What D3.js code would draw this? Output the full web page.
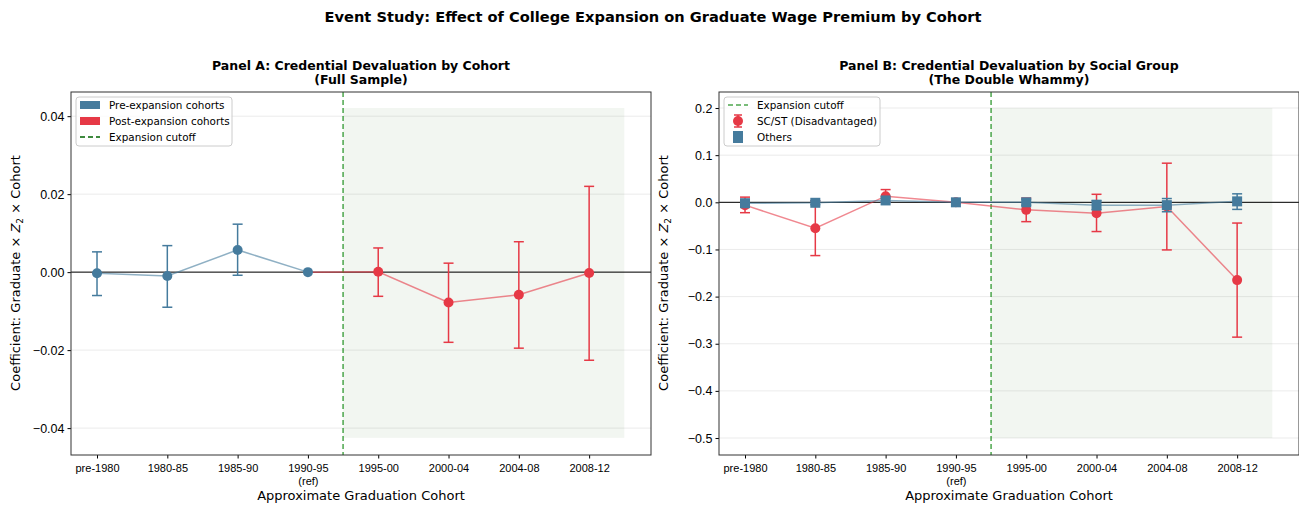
<!DOCTYPE html>
<html>
<head>
<meta charset="utf-8">
<script src="https://cdn.jsdelivr.net/npm/d3@7"></script>
<style>
body{margin:0;background:#fff;}
svg{font-family:"DejaVu Sans",sans-serif;}
.grid line{stroke:#e6e6e6;stroke-width:0.8;}
</style>
</head>
<body>
<div id="chart"></div>
<script>
var W=1299, H=506;

// cohorts on the x axis
var cohorts=["pre-1980","1980-85","1985-90","1990-95","1995-00","2000-04","2004-08","2008-12"];
var refIndex=3;
var cutoff=3.5;
var shadeX=[3.5,7.5];

// panel A: full sample
var coefA=[-0.0003,-0.0010,0.0057,0,0.0001,-0.0078,-0.0058,-0.0002];
var loA  =[-0.0060,-0.0090,-0.0008,0,-0.0062,-0.0180,-0.0195,-0.0226];
var hiA  =[0.0052,0.0068,0.0123,0,0.0062,0.0023,0.0078,0.0220];
var ticksA=[-0.04,-0.02,0.00,0.02,0.04];
var shadeYA=[-0.0425,0.0421];

// panel B: by social group
var coefSC=[-0.006,-0.055,0.013,0,-0.016,-0.023,-0.009,-0.165];
var loSC  =[-0.022,-0.113,0.000,0,-0.041,-0.062,-0.101,-0.286];
var hiSC  =[0.011,0.003,0.027,0,0.009,0.017,0.083,-0.044];
var coefOth=[-0.002,-0.001,0.004,0,0.000,-0.006,-0.006,0.002];
var loOth  =[-0.010,-0.005,0.000,0,-0.006,-0.016,-0.020,-0.015];
var hiOth  =[0.006,0.003,0.008,0,0.006,0.004,0.008,0.018];
var ticksB=[-0.5,-0.4,-0.3,-0.2,-0.1,0.0,0.1,0.2];
var shadeYB=[-0.5,0.2];

var blue="#457b9d", red="#e63946";

var svg=d3.select("#chart").append("svg").attr("width",W).attr("height",H);

svg.append("text").attr("x",653).attr("y",22).attr("text-anchor","middle")
  .style("font-size","14.6px").style("font-weight","bold")
  .text("Event Study: Effect of College Expansion on Graduate Wage Premium by Cohort");

function minus(s){return s.replace("-","\u2212");}

function makePanel(o){
  var g=svg.append("g");
  var x=d3.scaleLinear().domain([-0.37,7.88]).range([o.left,o.left+580]);
  var y=d3.scaleLinear().domain(o.ydom).range([455,92]);

  // grid
  g.append("g").attr("class","grid").selectAll("line").data(o.ticks).join("line")
    .attr("x1",x.range()[0]).attr("x2",x.range()[1])
    .attr("y1",d=>y(d)).attr("y2",d=>y(d));

  // shaded post period
  g.append("rect").attr("x",x(shadeX[0])).attr("width",x(shadeX[1])-x(shadeX[0]))
    .attr("y",y(o.shade[1])).attr("height",y(o.shade[0])-y(o.shade[1]))
    .attr("fill","#4a7a3a").attr("opacity",0.07);

  // zero line
  g.append("line").attr("x1",x.range()[0]).attr("x2",x.range()[1])
    .attr("y1",y(0)).attr("y2",y(0)).attr("stroke","#000").attr("stroke-width",1);

  // cutoff
  g.append("line").attr("x1",x(cutoff)).attr("x2",x(cutoff)).attr("y1",92).attr("y2",455)
    .attr("stroke","green").attr("stroke-opacity",0.7).attr("stroke-width",1.5)
    .attr("stroke-dasharray","5,3");

  // axes
  var xa=g.append("g").attr("transform","translate(0,455)")
    .call(d3.axisBottom(x).tickValues(d3.range(cohorts.length)).tickFormat("").tickSizeOuter(0).tickSize(3.5));
  xa.selectAll(".tick").each(function(d){
    d3.select(this).append("text").attr("fill","#000").attr("text-anchor","middle")
      .style("font-size","11px").attr("y",17).text(cohorts[d]);
    if(d===refIndex) d3.select(this).append("text").attr("fill","#000").attr("text-anchor","middle")
      .style("font-size","11px").attr("y",30).text("(ref)");
  });
  var ya=g.append("g").attr("transform","translate("+o.left+",0)")
    .call(d3.axisLeft(y).tickValues(o.ticks).tickFormat(d=>minus(d3.format(o.fmt)(d))).tickSizeOuter(0).tickSize(3.5));
  ya.selectAll("text").style("font-size","12.5px").attr("fill","#000");
  g.selectAll(".domain").remove();
  g.append("rect").attr("x",o.left).attr("y",92).attr("width",580).attr("height",363)
    .attr("fill","none").attr("stroke","#333").attr("stroke-width",1);

  // labels
  g.append("text").attr("x",o.left+290).attr("y",500).attr("text-anchor","middle")
    .style("font-size","13px").text("Approximate Graduation Cohort");
  var yl=g.append("text").attr("transform","translate("+(o.left-51)+",273) rotate(-90)")
    .attr("text-anchor","middle").style("font-size","13px");
  yl.append("tspan").text("Coefficient: Graduate \u00d7 ");
  yl.append("tspan").style("font-style","italic").text("Z");
  yl.append("tspan").attr("dy",3).style("font-size","9px").text("2");
  yl.append("tspan").attr("dy",-3).text(" \u00d7 Cohort");

  o.title.forEach(function(t,i){
    g.append("text").attr("x",o.left+290).attr("y",70+i*14).attr("text-anchor","middle")
      .style("font-size","12.5px").style("font-weight","bold").text(t);
  });
  return {g:g,x:x,y:y};
}

var line=function(x,y){return d3.line().x(d=>x(d.i)).y(d=>y(d.v));};

function drawErr(g,x,y,idx,lo,hi,col){
  idx.forEach(function(i){
    if(i===refIndex) return;
    var gg=g.append("g").attr("stroke",col).attr("stroke-width",1.5);
    gg.append("line").attr("x1",x(i)).attr("x2",x(i)).attr("y1",y(lo[i])).attr("y2",y(hi[i]));
    gg.append("line").attr("x1",x(i)-5).attr("x2",x(i)+5).attr("y1",y(lo[i])).attr("y2",y(lo[i]));
    gg.append("line").attr("x1",x(i)-5).attr("x2",x(i)+5).attr("y1",y(hi[i])).attr("y2",y(hi[i]));
  });
}

// ---------- Panel A
var A=makePanel({left:71,ydom:[-0.0469,0.0462],ticks:ticksA,fmt:".2f",shade:shadeYA,
  title:["Panel A: Credential Devaluation by Cohort","(Full Sample)"]});
var pre=d3.range(0,4), post=d3.range(3,8);
A.g.append("path").datum(pre.map(i=>({i:i,v:coefA[i]}))).attr("d",line(A.x,A.y))
  .attr("fill","none").attr("stroke",blue).attr("stroke-opacity",0.6).attr("stroke-width",1.5);
A.g.append("path").datum(post.map(i=>({i:i,v:coefA[i]}))).attr("d",line(A.x,A.y))
  .attr("fill","none").attr("stroke",red).attr("stroke-opacity",0.6).attr("stroke-width",1.5);
drawErr(A.g,A.x,A.y,pre,loA,hiA,blue);
drawErr(A.g,A.x,A.y,d3.range(4,8),loA,hiA,red);
A.g.selectAll(".ptA").data(d3.range(8)).join("circle")
  .attr("cx",i=>A.x(i)).attr("cy",i=>A.y(coefA[i])).attr("r",5)
  .attr("fill",i=>i<=refIndex?blue:red);

// legend A
var lgA=A.g.append("g").attr("transform","translate(76,97)");
lgA.append("rect").attr("width",156).attr("height",49).attr("rx",3)
  .attr("fill","#fff").attr("fill-opacity",0.8).attr("stroke","#ccc");
[["Pre-expansion cohorts",blue],["Post-expansion cohorts",red]].forEach(function(e,k){
  lgA.append("rect").attr("x",4).attr("y",4+k*16).attr("width",20).attr("height",8).attr("fill",e[1]);
  lgA.append("text").attr("x",33).attr("y",12+k*16).style("font-size","10.4px").text(e[0]);
});
lgA.append("line").attr("x1",4).attr("x2",24).attr("y1",40).attr("y2",40)
  .attr("stroke","darkgreen").attr("stroke-width",1.5).attr("stroke-dasharray","5,3");
lgA.append("text").attr("x",33).attr("y",44).style("font-size","10.4px").text("Expansion cutoff");

// ---------- Panel B
var B=makePanel({left:719,ydom:[-0.536,0.234],ticks:ticksB,fmt:".1f",shade:shadeYB,
  title:["Panel B: Credential Devaluation by Social Group","(The Double Whammy)"]});
var all=d3.range(8);
B.g.append("path").datum(all.map(i=>({i:i,v:coefSC[i]}))).attr("d",line(B.x,B.y))
  .attr("fill","none").attr("stroke",red).attr("stroke-opacity",0.6).attr("stroke-width",1.5);
drawErr(B.g,B.x,B.y,all,loSC,hiSC,red);
B.g.selectAll(".ptSC").data(all).join("circle")
  .attr("cx",i=>B.x(i)).attr("cy",i=>B.y(coefSC[i])).attr("r",5).attr("fill",red);
B.g.append("path").datum(all.map(i=>({i:i,v:coefOth[i]}))).attr("d",line(B.x,B.y))
  .attr("fill","none").attr("stroke",blue).attr("stroke-opacity",0.6).attr("stroke-width",1.5);
drawErr(B.g,B.x,B.y,all,loOth,hiOth,blue);
B.g.selectAll(".ptO").data(all).join("rect")
  .attr("x",i=>B.x(i)-5).attr("y",i=>B.y(coefOth[i])-5).attr("width",10).attr("height",10).attr("fill",blue);

// legend B
var lgB=B.g.append("g").attr("transform","translate(724,97)");
lgB.append("rect").attr("width",156).attr("height",49).attr("rx",3)
  .attr("fill","#fff").attr("fill-opacity",0.8).attr("stroke","#ccc");
lgB.append("line").attr("x1",4).attr("x2",24).attr("y1",8).attr("y2",8)
  .attr("stroke","green").attr("stroke-opacity",0.7).attr("stroke-width",1.5).attr("stroke-dasharray","5,3");
lgB.append("text").attr("x",33).attr("y",12).style("font-size","10.4px").text("Expansion cutoff");
var e1=lgB.append("g").attr("stroke",red).attr("stroke-width",1.5);
e1.append("line").attr("x1",14).attr("x2",14).attr("y1",18).attr("y2",30);
e1.append("line").attr("x1",10).attr("x2",18).attr("y1",18).attr("y2",18);
e1.append("line").attr("x1",10).attr("x2",18).attr("y1",30).attr("y2",30);
lgB.append("circle").attr("cx",14).attr("cy",24).attr("r",5).attr("fill",red);
lgB.append("text").attr("x",33).attr("y",28).style("font-size","10.4px").text("SC/ST (Disadvantaged)");
lgB.append("rect").attr("x",9).attr("y",34).attr("width",10).attr("height",12).attr("fill",blue);
lgB.append("text").attr("x",33).attr("y",44).style("font-size","10.4px").text("Others");
</script>
</body>
</html>
